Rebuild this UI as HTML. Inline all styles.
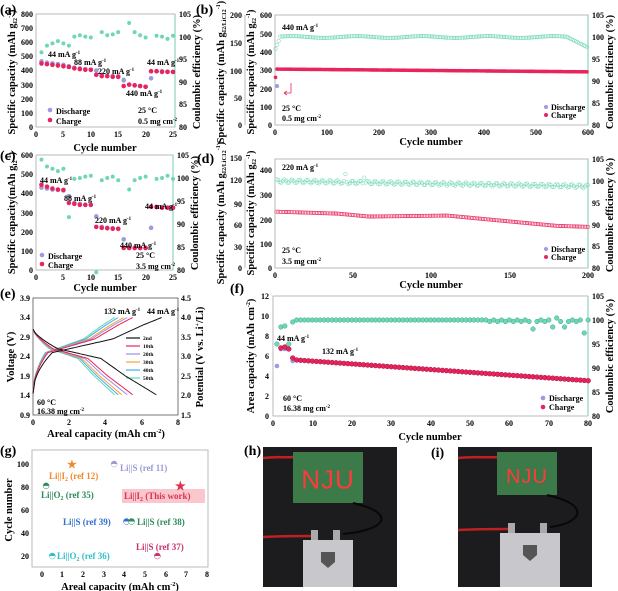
<!DOCTYPE html>
<html><head><meta charset="utf-8"><style>
html,body{margin:0;padding:0;background:#fff}
svg{display:block;font-family:"Liberation Serif",serif;font-weight:bold}
.t{font-size:8px}
.lab{font-size:14px}
.ax{font-size:10.5px}
.ann{font-size:8px}
</style></head><body>
<svg id="s" width="618" height="591" viewBox="0 0 618 591" xmlns="http://www.w3.org/2000/svg">
<g id="frames" fill="none" stroke-width="0.8">
 <rect x="36" y="14" width="139" height="113" stroke="#aaa"/>
 <line x1="175" y1="14" x2="175" y2="127" stroke="#6ad0b4"/>
 <rect x="36" y="155" width="137" height="115" stroke="#aaa"/>
 <line x1="173" y1="155" x2="173" y2="270" stroke="#6ad0b4"/>
 <rect x="275" y="15" width="313" height="110" stroke="#aaa"/>
 <line x1="245" y1="15" x2="245" y2="125" stroke="#aaa"/>
 <line x1="588" y1="15" x2="588" y2="125" stroke="#6ad0b4"/>
 <rect x="275" y="159" width="313" height="109" stroke="#aaa"/>
 <line x1="245" y1="159" x2="245" y2="268" stroke="#aaa"/>
 <line x1="588" y1="159" x2="588" y2="268" stroke="#6ad0b4"/>
 <rect x="33" y="298" width="145" height="117" stroke="#555"/>
 <rect x="273" y="296" width="315" height="120" stroke="#aaa"/>
 <line x1="588" y1="296" x2="588" y2="416" stroke="#6ad0b4"/>
 <rect x="32" y="450" width="176" height="117" stroke="#aaa"/>
</g>
<g id="dots"></g>

<text class="lab" x="0" y="14">(a)</text>
<text class="lab" x="196" y="14">(b)</text>
<text class="lab" x="0" y="160">(c)</text>
<text class="lab" x="197" y="163">(d)</text>
<text class="lab" x="0" y="298">(e)</text>
<text class="lab" x="230" y="293">(f)</text>
<text class="lab" x="0" y="455">(g)</text>
<text class="lab" x="244" y="455">(h)</text>
<text class="lab" x="431" y="457">(i)</text>

<g class="t" text-anchor="end">
<text x="33" y="17">800</text><text x="33" y="31">700</text><text x="33" y="45">600</text><text x="33" y="59">500</text><text x="33" y="73">400</text><text x="33" y="88">300</text><text x="33" y="102">200</text><text x="33" y="116">100</text><text x="33" y="130">0</text>
<text x="33" y="158">600</text><text x="33" y="177">500</text><text x="33" y="196">400</text><text x="33" y="216">300</text><text x="33" y="235">200</text><text x="33" y="254">100</text><text x="33" y="273">0</text>
<text x="242" y="18">200</text><text x="242" y="46">150</text><text x="242" y="74">100</text><text x="242" y="101">50</text><text x="242" y="128">0</text>
<text x="272" y="18">600</text><text x="272" y="37">500</text><text x="272" y="55">400</text><text x="272" y="73">300</text><text x="272" y="92">200</text><text x="272" y="110">100</text><text x="272" y="128">0</text>
<text x="242" y="161">150</text><text x="242" y="183">120</text><text x="242" y="207">90</text><text x="242" y="228">60</text><text x="242" y="250">30</text><text x="242" y="271">0</text>
<text x="272" y="173">400</text><text x="272" y="198">300</text><text x="272" y="223">200</text><text x="272" y="247">100</text><text x="272" y="271">0</text>
<text x="30" y="301">3.9</text><text x="30" y="320">3.4</text><text x="30" y="340">2.9</text><text x="30" y="359">2.4</text><text x="30" y="379">1.9</text><text x="30" y="398">1.4</text><text x="30" y="418">0.9</text>
<text x="269" y="299">12</text><text x="269" y="319">10</text><text x="269" y="339">8</text><text x="269" y="359">6</text><text x="269" y="379">4</text><text x="269" y="399">2</text><text x="269" y="419">0</text>
<text x="29" y="467">100</text><text x="29" y="490">80</text><text x="29" y="513">60</text><text x="29" y="536">40</text><text x="29" y="559">20</text>
</g>
<g class="t">
<text x="179" y="17">105</text><text x="179" y="40">100</text><text x="179" y="62">95</text><text x="179" y="85">90</text><text x="179" y="107">85</text><text x="179" y="130">80</text>
<text x="177" y="158">105</text><text x="177" y="181">100</text><text x="177" y="204">95</text><text x="177" y="227">90</text><text x="177" y="250">85</text><text x="177" y="273">80</text>
<text x="592" y="18">105</text><text x="592" y="40">100</text><text x="592" y="62">95</text><text x="592" y="84">90</text><text x="592" y="106">85</text><text x="592" y="128">80</text>
<text x="592" y="162">105</text><text x="592" y="184">100</text><text x="592" y="206">95</text><text x="592" y="228">90</text><text x="592" y="249">85</text><text x="592" y="271">80</text>
<text x="181" y="301">4.5</text><text x="181" y="320">4.0</text><text x="181" y="340">3.5</text><text x="181" y="359">3.0</text><text x="181" y="379">2.5</text><text x="181" y="398">2.0</text><text x="181" y="418">1.5</text>
<text x="592" y="299">105</text><text x="592" y="323">100</text><text x="592" y="347">95</text><text x="592" y="371">90</text><text x="592" y="395">85</text><text x="592" y="419">80</text>
</g>
<g class="t" text-anchor="middle">
<text x="36" y="137">0</text><text x="63" y="137">5</text><text x="91" y="137">10</text><text x="118" y="137">15</text><text x="146" y="137">20</text><text x="173" y="137">25</text>
<text x="36" y="280">0</text><text x="63" y="280">5</text><text x="91" y="280">10</text><text x="118" y="280">15</text><text x="146" y="280">20</text><text x="173" y="280">25</text>
<text x="275" y="135">0</text><text x="327" y="135">100</text><text x="379" y="135">200</text><text x="431" y="135">300</text><text x="484" y="135">400</text><text x="536" y="135">500</text><text x="588" y="135">600</text>
<text x="275" y="278">0</text><text x="353" y="278">50</text><text x="431" y="278">100</text><text x="510" y="278">150</text><text x="588" y="278">200</text>
<text x="33" y="425">0</text><text x="69" y="425">2</text><text x="105" y="425">4</text><text x="142" y="425">6</text><text x="178" y="425">8</text>
<text x="273" y="426">0</text><text x="313" y="426">10</text><text x="352" y="426">20</text><text x="391" y="426">30</text><text x="431" y="426">40</text><text x="470" y="426">50</text><text x="509" y="426">60</text><text x="549" y="426">70</text><text x="588" y="426">80</text>
<text x="42" y="577">0</text><text x="62" y="577">1</text><text x="83" y="577">2</text><text x="104" y="577">3</text><text x="124" y="577">4</text><text x="145" y="577">5</text><text x="166" y="577">6</text><text x="186" y="577">7</text><text x="207" y="577">8</text>
</g>

<g class="ax" text-anchor="middle">
<text x="105" y="151">Cycle number</text>
<text x="105" y="291">Cycle number</text>
<text x="431" y="145">Cycle number</text>
<text x="431" y="288">Cycle number</text>
<text x="430" y="440">Cycle number</text>
<text x="106" y="437">Areal capacity (mAh cm<tspan font-size="6" dy="-4">-2</tspan><tspan dy="4">)</tspan></text>
<text x="120" y="590">Areal capacity (mAh cm<tspan font-size="6" dy="-4">-2</tspan><tspan dy="4">)</tspan></text>
<text transform="translate(15,72) rotate(-90)">Specific capacity (mAh g<tspan font-size="6" dy="2">I2</tspan><tspan font-size="6" dy="-6">-1</tspan><tspan dy="4">)</tspan></text>
<text transform="translate(15,213) rotate(-90)">Specific capacity(mAh g<tspan font-size="6" dy="2">I2</tspan><tspan font-size="6" dy="-6">-1</tspan><tspan dy="4">)</tspan></text>
<text transform="translate(200,72) rotate(-90)">Coulombic efficiency (%)</text>
<text transform="translate(198,213) rotate(-90)">Coulombic efficiency (%)</text>
<text transform="translate(224,72) rotate(-90)">Specific capacity (mAh g<tspan font-size="6" dy="2">I2/LiC12</tspan><tspan font-size="6" dy="-6">-1</tspan><tspan dy="4">)</tspan></text>
<text transform="translate(254,72) rotate(-90)">Specific capacity (mAh g<tspan font-size="6" dy="2">I2</tspan><tspan font-size="6" dy="-6">-1</tspan><tspan dy="4">)</tspan></text>
<text transform="translate(224,213) rotate(-90)">Specific capacity (mAh g<tspan font-size="6" dy="2">I2/LiC12</tspan><tspan font-size="6" dy="-6">-1</tspan><tspan dy="4">)</tspan></text>
<text transform="translate(254,213) rotate(-90)">Specific capacity (mAh g<tspan font-size="6" dy="2">I2</tspan><tspan font-size="6" dy="-6">-1</tspan><tspan dy="4">)</tspan></text>
<text transform="translate(613,72) rotate(-90)">Coulombic efficiency (%)</text>
<text transform="translate(613,215) rotate(-90)">Coulombic efficiency (%)</text>
<text transform="translate(14,357) rotate(-90)">Voltage (V)</text>
<text transform="translate(203,357) rotate(-90)">Potential (V vs. Li<tspan font-size="6" dy="-4">+</tspan><tspan dy="4">/Li)</tspan></text>
<text transform="translate(254,356) rotate(-90)">Area capacity (mAh cm<tspan font-size="6" dy="-4">-2</tspan><tspan dy="4">)</tspan></text>
<text transform="translate(613,356) rotate(-90)">Coulombic efficiency (%)</text>
<text transform="translate(12,510) rotate(-90)">Cycle number</text>
</g>

<g class="ann">
<text x="48" y="57">44 mA g<tspan font-size="5" dy="-3">-1</tspan></text>
<text x="74" y="65">88 mA g<tspan font-size="5" dy="-3">-1</tspan></text>
<text x="98" y="74">220 mA g<tspan font-size="5" dy="-3">-1</tspan></text>
<text x="126" y="96">440 mA g<tspan font-size="5" dy="-3">-1</tspan></text>
<text x="147" y="65">44 mA g<tspan font-size="5" dy="-3">-1</tspan></text>
<text x="138" y="113">25 °C</text><text x="138" y="124">0.5 mg cm<tspan font-size="5" dy="-3">-2</tspan></text>
<text x="56" y="114">Discharge</text><text x="56" y="124">Charge</text>
<text x="40" y="183">44 mA g<tspan font-size="5" dy="-3">-1</tspan></text>
<text x="64" y="201">88 mA g<tspan font-size="5" dy="-3">-1</tspan></text>
<text x="95" y="223">220 mA g<tspan font-size="5" dy="-3">-1</tspan></text>
<text x="120" y="248">440 mA g<tspan font-size="5" dy="-3">-1</tspan></text>
<text x="145" y="209">44 mA g<tspan font-size="5" dy="-3">-1</tspan></text>
<text x="136" y="258">25 °C</text><text x="136" y="269">3.5 mg cm<tspan font-size="5" dy="-3">-2</tspan></text>
<text x="48" y="259">Discharge</text><text x="48" y="268">Charge</text>
<text x="282" y="30">440 mA g<tspan font-size="5" dy="-3">-1</tspan></text>
<text x="282" y="111">25 °C</text><text x="282" y="121">0.5 mg cm<tspan font-size="5" dy="-3">-2</tspan></text>
<text x="551" y="110">Discharge</text><text x="551" y="118">Charge</text>
<text x="282" y="170">220 mA g<tspan font-size="5" dy="-3">-1</tspan></text>
<text x="282" y="253">25 °C</text><text x="282" y="264">3.5 mg cm<tspan font-size="5" dy="-3">-2</tspan></text>
<text x="551" y="252">Discharge</text><text x="551" y="260">Charge</text>
<text x="104" y="314">132 mA g<tspan font-size="5" dy="-3">-1</tspan></text>
<text x="147" y="314">44 mA g<tspan font-size="5" dy="-3">-1</tspan></text>
<text x="37" y="405">60 °C</text><text x="37" y="414">16.38 mg cm<tspan font-size="5" dy="-3">-2</tspan></text>
<text x="277" y="341">44 mA g<tspan font-size="5" dy="-3">-1</tspan></text>
<text x="322" y="354">132 mA g<tspan font-size="5" dy="-3">-1</tspan></text>
<text x="283" y="401">60 °C</text><text x="283" y="411">16.38 mg cm<tspan font-size="5" dy="-3">-2</tspan></text>
<text x="549" y="401">Discharge</text><text x="549" y="410">Charge</text>
</g>
<g font-size="5.5">
<text x="143" y="340">2nd</text><text x="143" y="348">10th</text><text x="143" y="356">20th</text><text x="143" y="364">30th</text><text x="143" y="372">40th</text><text x="143" y="380">50th</text>
</g>
<g font-size="9">
<rect x="122" y="489" width="83" height="14" fill="#f8c8cc"/>
<text x="49" y="479" fill="#f08a2a">Li||I<tspan font-size="6" dy="2">2</tspan><tspan dy="-2"> (ref 12)</tspan></text>
<text x="120" y="471" fill="#9a9ad8">Li||S (ref 11)</text>
<text x="41" y="498" fill="#2e8b5a">Li||O<tspan font-size="6" dy="2">2</tspan><tspan dy="-2"> (ref 35)</tspan></text>
<text x="124" y="499" fill="#e03050">Li||I<tspan font-size="6" dy="2">2</tspan><tspan dy="-2"> (This work)</tspan></text>
<text x="63" y="525" fill="#2f6fd0">Li||S (ref 39)</text>
<text x="137" y="525" fill="#2e8b5a">Li||S (ref 38)</text>
<text x="57" y="559" fill="#30c0c8">Li||O<tspan font-size="6" dy="2">2</tspan><tspan dy="-2"> (ref 36)</tspan></text>
<text x="136" y="550" fill="#c83070">Li||S (ref 37)</text>
</g>
<text x="67" y="468" font-size="11" fill="#f08a2a">★</text>
<text x="175" y="490" font-size="12" fill="#e03050">★</text>
<g id="photos"></g>
</svg>
<script>
const NS="http://www.w3.org/2000/svg";
const D=document.getElementById('dots');
function el(t,a,p){const e=document.createElementNS(NS,t);for(const k in a)e.setAttribute(k,a[k]);(p||D).appendChild(e);return e;}
function c(x,y,r,f,s){el('circle',{cx:x,cy:y,r:r,fill:f,stroke:s||'none','stroke-width':0.5});}
const TE='#6fd6b8',PK='#e8245c',LV='#9a9be0';
let aD=[465,455,450,445,440,430,420,415,410,405,400,370,362,360,358,330,300,295,290,285,345,395,395,392,390];
let aC=[450,445,440,435,430,425,415,410,405,405,370,360,360,355,355,290,300,295,290,285,395,395,390,390,390];
let aE=[96.5,98,98.5,99,98.5,98,100,100.3,100,99.8,91.5,101,100.3,100.5,101,90.5,103,101,100.3,99.8,null,100.2,100,99.5,100.2];
for(let i=0;i<25;i++){let x=36+(i+1)*5.48;
 if(aE[i]!=null)c(x,127-(aE[i]-80)*4.52,2,TE);
 c(x,127-aD[i]*113/800,2.3,LV);c(x,127-aC[i]*113/800,2.3,PK);}
c(50,110,2.3,LV);c(50,120,2.3,PK);
let cD=[430,425,420,418,415,385,350,345,340,340,280,225,220,218,215,160,115,115,115,115,220,330,328,325,325];
let cC=[445,435,425,420,418,350,345,340,340,340,225,220,218,215,215,115,115,115,115,115,330,328,325,325,325];
let cE=[104,102.5,102,101.5,102,91.5,99.8,100,100.3,100.5,79.5,99.5,100,100.3,99.5,null,97.5,99.5,100,100.3,null,99.8,100,100.5,99.8];
for(let i=0;i<25;i++){let x=36+(i+1)*5.48;
 if(cE[i]!=null)c(x,270-(cE[i]-80)*4.6,2,TE);
 c(x,270-cD[i]*115/600,2.3,LV);c(x,270-cC[i]*115/600,2.3,PK);}
c(42,255,2.3,LV);c(42,264,2.3,PK);
for(let n=1;n<=600;n+=3){let x=275+n*313/600;
 let ce=n<10?97+n*0.3:(n>560?100-(n-560)*0.06:100+0.2*Math.sin(n/20));
 c(x,125-(ce-80)*4.4,1.8,'none',TE);
 let v=n<3?260:(305-n*0.025);
 c(x,125-v*110/600,1.8,PK);}
c(277,86,2,LV);
el('path',{d:'M291 93 V83 M291 93 H284 M284 93 l3 -2 M284 93 l3 2',stroke:PK,fill:'none','stroke-width':0.8});
c(546,107,2,LV);c(546,115,2,PK);
for(let n=1;n<=200;n++){let x=275+n*313/200;
 let ce=100-n*0.006+0.4*Math.sin(n*1.3)+(n==45||n==57?1.5:0);
 c(x,181+(100-ce)*4.36,1.8,'none',TE);
 let v=n<40?230-n*0.2:(n<60?222-(n-40)*0.6:(n<110?210+(n-60)*0.08:(n<180?214-(n-110)*0.6:172-(n-180)*0.2)));
 c(x,268-v*0.245,1.8,'none',PK);}
c(546,249,2,LV);c(546,257,2,PK);
const fX=n=>273+n*3.94,fY=v=>416-v*10;
let fE=[null,7.2,8.9,9.0,7.2,9.4];
for(let n=1;n<=80;n++){let ce=n<6?fE[n]:9.6+(n>53&&n%2?-0.15:0);
 if(n==66)ce=8.7;if(n==71||n==74)ce=8.9;if(n==79)ce=8.3;if(n==72)ce=9.8;
 if(ce!=null)c(fX(n),fY(ce),2.3,TE,'#3aa88a');
 let v=n==1?null:(n<5?[0,0,6.8,6.9,6.7][n]:(n==5?5.8:5.6-(n-6)*0.028));
 if(n==1)c(fX(1),fY(5.0),2.3,LV);
 if(n==2||n==3)c(fX(n),fY(6.7),2.3,LV);
 if(n==5)c(fX(5),fY(5.5),2.3,LV);
 if(v!=null)c(fX(n),fY(v),2.4,PK,'#a01040');}
c(543,398,2.3,LV);c(543,407,2.3,PK);
const eX=q=>33+q*145/8,eY=V=>298+(3.9-V)*39;
function curve(L,ch,col,w){let p='';for(let i=0;i<=60;i++){let t=i/60,V;
 if(ch){V=t<0.15?1.45+ (2.5-1.45)*Math.sqrt(t/0.15):(t<0.62?2.5+0.35*(t-0.15)/0.47:(t<0.85?2.85+0.35*(t-0.62)/0.23:3.2+0.2*(t-0.85)/0.15));}
 else{V=t<0.2?3.1-0.5*Math.pow(t/0.2,0.7):(t<0.55?2.6-0.25*(t-0.2)/0.35:(t<0.75?2.35-0.45*(t-0.55)/0.2:1.9-0.48*(t-0.75)/0.25));}
 p+=(i?'L':'M')+eX(t*L).toFixed(1)+' '+eY(V).toFixed(1);}
 el('path',{d:p,stroke:col,fill:'none','stroke-width':w||1});}
const cols=['#111','#e8245c','#a090e0','#ffa030','#40b0f0','#60d8b8'];
const LC=[7.1,5.5,5.2,5.0,4.7,4.5],LD=[6.8,5.5,5.2,4.9,4.7,4.5];
for(let k=5;k>=0;k--){curve(LC[k],true,cols[k],1);curve(LD[k],false,cols[k],1);
 el('line',{x1:126,y1:338+k*8,x2:140,y2:338+k*8,stroke:cols[k],'stroke-width':1.2});}
const gX=v=>42+v*20.6,gY=v=>556-(v-20)*1.15;
function hc(x,y,col){c(x,y,3,'#fff',col);el('path',{d:`M${x-3} ${y} A3 3 0 0 ${1} ${x+3} ${y} Z`,fill:col});}
hc(gX(3.5),gY(100),'#9a9ad8');hc(gX(0.2),gY(81),'#2e8b5a');hc(gX(4.1),gY(50),'#2f6fd0');hc(gX(4.35),gY(50),'#2e8b5a');hc(gX(0.5),gY(20),'#30c0c8');hc(gX(5.6),gY(20),'#c83070');
const P=document.getElementById('photos');
function photo(x,y,w,h,bx,by,bw,bh,px,py,pw,ph,fs){
 el('rect',{x:x,y:y,width:w,height:h,fill:'#1c1c1e'},P);
 el('rect',{x:bx,y:by,width:bw,height:bh,fill:'#3c7a4a'},P);
 let t=el('text',{x:bx+bw/2,y:by+bh*0.72,'text-anchor':'middle','font-size':fs,fill:'#ff3a3a','font-family':'Liberation Sans, sans-serif','font-weight':'normal','letter-spacing':'1'},P);t.textContent='NJU';
 el('path',{d:`M${x} ${by+6} C${x+20} ${by+4} ${bx-10} ${by+6} ${bx} ${by+5}`,stroke:'#c02020','stroke-width':2.5,fill:'none'},P);
 el('path',{d:`M${bx+bw-10} ${by+bh} C${x+w} ${by+bh+10} ${x+w-10} ${py-10} ${px+pw-10} ${py-6}`,stroke:'#080808','stroke-width':2,fill:'none'},P);
 el('path',{d:`M${x} ${py-3} C${x+20} ${py-4} ${px} ${py-4} ${px+8} ${py-4}`,stroke:'#c02020','stroke-width':2.5,fill:'none'},P);
 el('rect',{x:px+8,y:py-10,width:7,height:10,fill:'#aaa'},P);el('rect',{x:px+pw-20,y:py-10,width:7,height:10,fill:'#aaa'},P);
 el('rect',{x:px,y:py,width:pw,height:ph,fill:'#c8c8cc'},P);
 el('path',{d:`M${px+pw/2-7} ${py+12} h14 v10 l-7 6 l-7 -6 z`,fill:'#555'},P);
}
photo(263,447,134,140,293,452,70,51,303,540,50,47,26);
photo(458,447,134,140,497,452,60,43,500,533,60,54,20);
</script>
</body></html>
